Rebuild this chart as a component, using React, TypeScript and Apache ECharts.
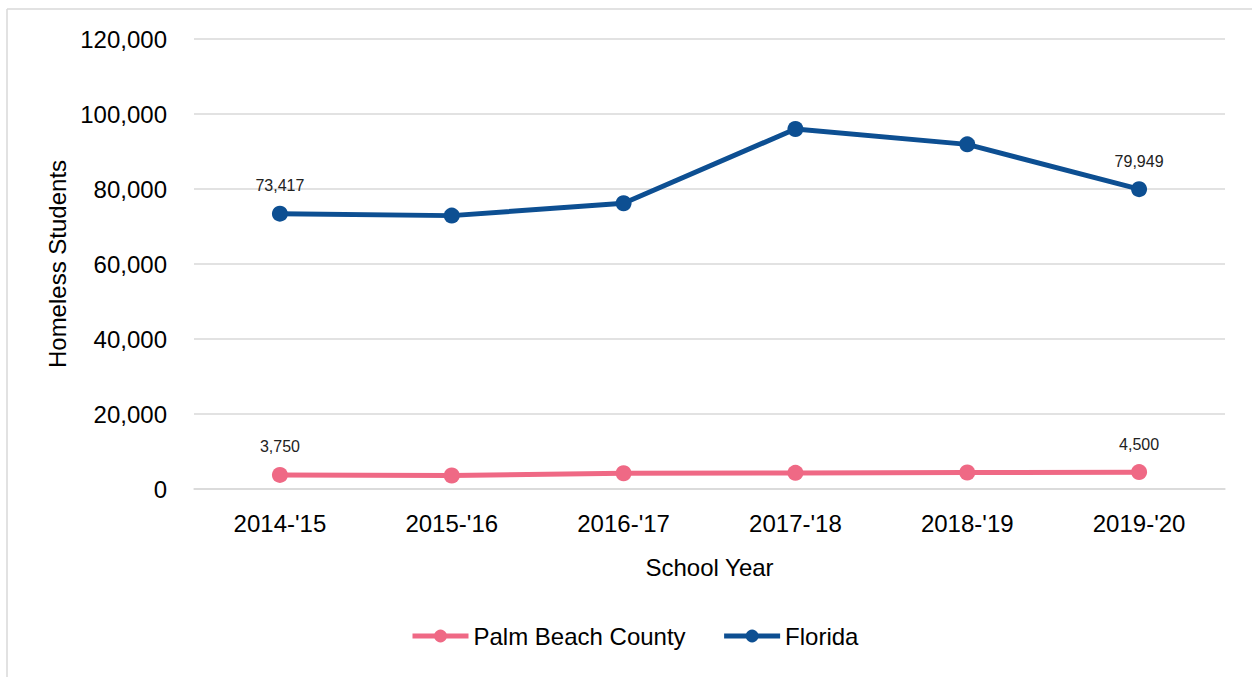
import React, { useEffect, useRef } from "react";
import * as echarts from "echarts";

const years = ["2014-'15", "2015-'16", "2016-'17", "2017-'18", "2018-'19", "2019-'20"];
const palmBeach = [3750, 3600, 4200, 4300, 4400, 4500];
const florida = [73417, 72900, 76200, 96000, 91900, 79949];
const seriesNames = ["Palm Beach County", "Florida"];
const yTicks = { min: 0, max: 120000, interval: 20000 };

const FONT = "'Liberation Sans Narrow', 'Arial Narrow', 'Liberation Sans', Arial, sans-serif";

export default function App() {
  const ref = useRef<HTMLDivElement>(null);
  useEffect(() => {
    if (!ref.current) return;
    const chart = echarts.init(ref.current, undefined, { renderer: "svg" });
    const labelShow = (n: number) => (p: any) =>
      p.dataIndex === 0 || p.dataIndex === n - 1 ? p.value.toLocaleString("en-US") : "";
    chart.setOption({
      animation: false,
      backgroundColor: "#fff",
      textStyle: { fontFamily: FONT },
      grid: { left: 194, right: 27, top: 39, bottom: 188, containLabel: false },
      legend: {
        data: seriesNames,
        bottom: 24,
        left: 405,
        itemWidth: 56,
        itemHeight: 16,
        itemGap: 36,
        lineStyle: { width: 5 },
        textStyle: { fontFamily: FONT, fontSize: 24, color: "#000" },
      },
      xAxis: {
        type: "category",
        data: years,
        boundaryGap: true,
        name: "School Year",
        nameLocation: "middle",
        nameGap: 66,
        nameTextStyle: { fontFamily: FONT, fontSize: 24, color: "#000" },
        axisLine: { show: true, lineStyle: { color: "#d9d9d9", width: 1.5 } },
        axisTick: { show: false },
        axisLabel: { fontFamily: FONT, fontSize: 24, color: "#000", margin: 22 },
      },
      yAxis: {
        type: "value",
        min: yTicks.min,
        max: yTicks.max,
        interval: yTicks.interval,
        name: "Homeless Students",
        nameLocation: "middle",
        nameGap: 118,
        nameTextStyle: { fontFamily: FONT, fontSize: 24, color: "#000" },
        axisLine: { show: false },
        axisTick: { show: false },
        axisLabel: {
          fontFamily: FONT,
          fontSize: 24,
          color: "#000",
          margin: 27,
          formatter: (v: number) => v.toLocaleString("en-US"),
        },
        splitLine: { lineStyle: { color: "#d9d9d9", width: 1.5 } },
      },
      series: [
        {
          name: seriesNames[0],
          type: "line",
          data: palmBeach,
          symbol: "circle",
          symbolSize: 16,
          lineStyle: { color: "#EF6985", width: 5 },
          itemStyle: { color: "#EF6985" },
          label: {
            show: true,
            position: "top",
            distance: 12,
            fontFamily: FONT,
            fontSize: 16,
            color: "#222",
            formatter: labelShow(palmBeach.length),
          },
          z: 3,
        },
        {
          name: seriesNames[1],
          type: "line",
          data: florida,
          symbol: "circle",
          symbolSize: 16,
          lineStyle: { color: "#0D4F92", width: 5 },
          itemStyle: { color: "#0D4F92" },
          label: {
            show: true,
            position: "top",
            distance: 12,
            fontFamily: FONT,
            fontSize: 16,
            color: "#222",
            formatter: labelShow(florida.length),
          },
          z: 3,
        },
      ],
      graphic: [
        { type: "line", shape: { x1: 7, y1: 9, x2: 1252, y2: 9 }, style: { stroke: "#d9d9d9", lineWidth: 1.5 } },
        { type: "line", shape: { x1: 7, y1: 9, x2: 7, y2: 677 }, style: { stroke: "#d9d9d9", lineWidth: 1.5 } },
      ],
    });
    return () => chart.dispose();
  }, []);
  return (
    <div
      ref={ref}
      style={{ position: "absolute", left: 0, top: 0, width: 1252, height: 677 }}
    />
  );
}
